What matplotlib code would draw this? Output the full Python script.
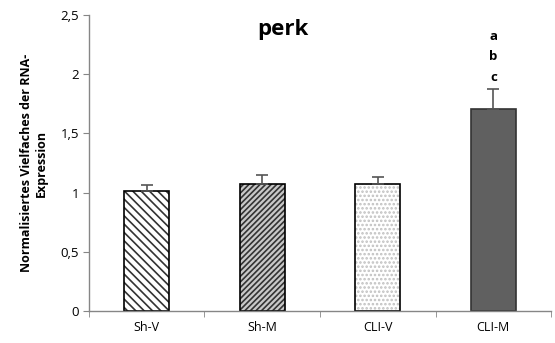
import matplotlib.pyplot as plt
import matplotlib as mpl

# ── Data ──────────────────────────────────────────────────────────────────────
groups = ["Sh-V", "Sh-M", "CLI-V", "CLI-M"]
means = [1.015, 1.075, 1.075, 1.705]
errors = [0.047, 0.077, 0.058, 0.167]
letters = ["", "", "", "a\nb\nc"]

hatches = ["\\\\\\\\", "//////", "....", ""]
fills = ["white", "#c8c8c8", "white", "#606060"]
hcolors = ["#333333", "#333333", "#c0c0c0", "#606060"]

FONT = ["Open Sans", "DejaVu Sans"]
C_AX = "#868686"

mpl.rcParams["hatch.linewidth"] = 1.2

fig = plt.figure(figsize=(5.55, 3.43), dpi=100, facecolor="white")
ax = fig.add_axes([0.160, 0.093, 0.833, 0.863])

x = list(range(len(groups)))
for i in x:
    ax.bar(i, means[i], width=0.39, color=fills[i], hatch=hatches[i],
           edgecolor="black", linewidth=1.2, zorder=2)
for p, hc in zip(ax.patches, hcolors):
    if hasattr(p, "_hatch_color"):
        p._hatch_color = mpl.colors.to_rgba(hc)
ax.patches[3].set_edgecolor("#333333")

ax.errorbar(x, means, yerr=[[0] * len(x), errors], fmt="none", ecolor="#555555",
            elinewidth=1.2, capsize=4, capthick=1.2, zorder=3)

for i, t in enumerate(letters):
    if t:
        ax.text(i, means[i] + errors[i] + 0.05, t, ha="center", va="bottom",
                fontsize=9.5, fontweight="bold", family=FONT, linespacing=1.75)

ax.set_xlim(-0.5, len(groups) - 0.5)
ax.set_ylim(0, 2.5)
ax.set_yticks([0, 0.5, 1, 1.5, 2, 2.5])
ax.set_yticklabels(["0", "0,5", "1", "1,5", "2", "2,5"], family=FONT, fontsize=9.5)
ax.set_xticks(x)
ax.set_xticklabels(groups, family=FONT, fontsize=9)
ax.set_xticks([i + 0.5 for i in range(-1, len(groups))], minor=True)
ax.tick_params(axis="x", which="major", length=0, pad=7)
ax.tick_params(axis="x", which="minor", length=4, color=C_AX, direction="out")
ax.tick_params(axis="y", length=4, color=C_AX, direction="out", pad=3)

for s in ["top", "right"]:
    ax.spines[s].set_visible(False)
for s in ["left", "bottom"]:
    ax.spines[s].set_color(C_AX)
    ax.spines[s].set_linewidth(1.0)

ax.set_ylabel("Normalisiertes Vielfaches der RNA-\nExpression", family=FONT,
              fontsize=9, fontweight="bold", labelpad=9, linespacing=1.2)
ax.text(0.42, 0.95, "perk", transform=ax.transAxes, ha="center", va="center",
        fontsize=16, fontweight="bold", family=FONT)

fig.savefig("out.png", dpi=100, facecolor="white")
